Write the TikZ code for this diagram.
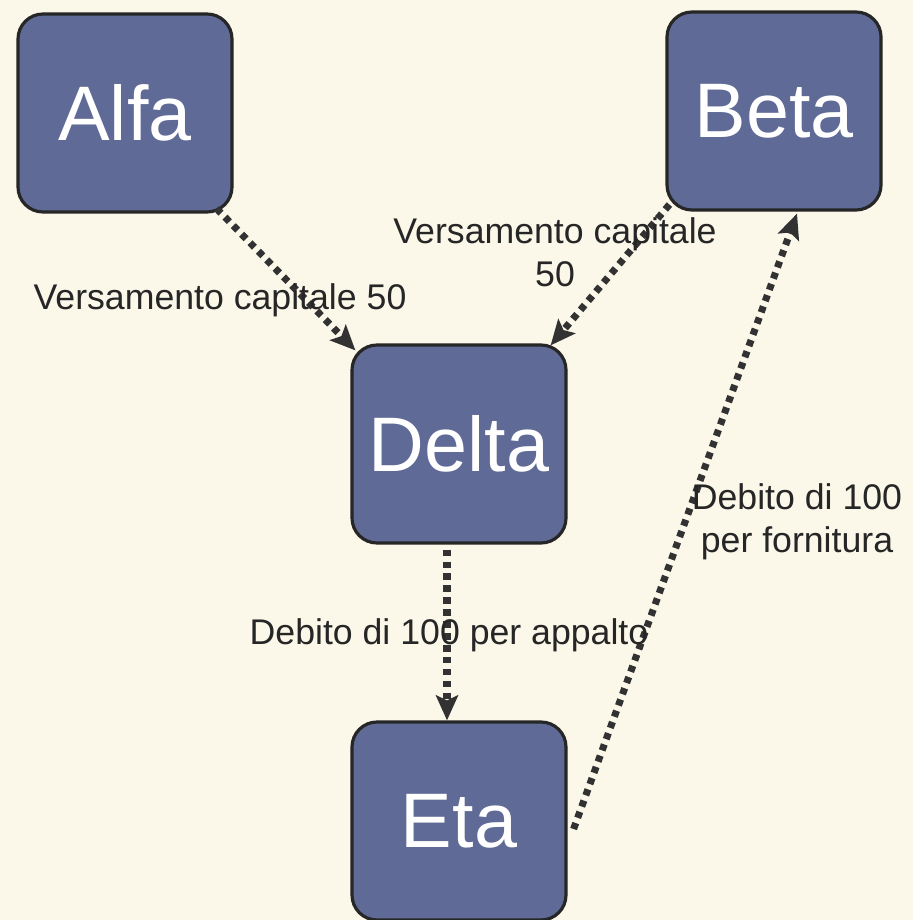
\documentclass[tikz,border=0pt]{standalone}
\usepackage{fontspec}
\setmainfont{Liberation Sans}
\usepackage{tikz}
\usetikzlibrary{calc}
\usetikzlibrary{arrows.meta}
\usetikzlibrary{positioning}
\definecolor{boxblue}{RGB}{95,107,150}
\definecolor{paper}{RGB}{251,247,233}
\definecolor{inkgray}{RGB}{50,50,50}
\tikzstyle{firm}=[draw=black!85,line width=1.8pt,fill=boxblue,rounded corners=0.5cm,
                minimum width=4.28cm,minimum height=3.96cm,inner sep=0,text=white,
                font=\fontsize{44}{48}\selectfont]
\tikzstyle{flow}=[draw=inkgray,line width=4pt,dash pattern=on 3.6pt off 3.2pt,
                -{Stealth[length=0.5cm,width=0.44cm,inset=0.1cm]}]
\tikzstyle{lbl}=[text=black!85,align=center,inner sep=0,
                font=\fontsize{20.3}{24.5}\selectfont]

\begin{document}
\begin{tikzpicture}
\fill[paper] (0,0) rectangle (18.26,-18.4);
\useasboundingbox (0,0) rectangle (18.26,-18.4);
\node[firm] (Alfa) at (2.5,-2.26) {Alfa};
\node[firm] (Beta) at (15.48,-2.22) {Beta};
\node[firm] (Delta) at (9.18,-8.88) {Delta};
\node[firm] (Eta) at (9.18,-16.42) {Eta};
\coordinate (A1) at ($(Alfa.south east)+(-0.34,0.1)$);
\coordinate (D1) at ($(Delta.north west)+(0.1,-0.14)$);
\draw[flow] (A1) -- (D1);
\coordinate (B1) at ($(Beta.south west)+(0.08,0.14)$);
\coordinate (D2) at ($(Delta.north east)+(-0.34,-0.04)$);
\draw[flow] (B1) -- (D2);
\coordinate (D3) at ($(Delta.south)+(-0.24,-0.1)$);
\coordinate (E1) at ($(Eta.north)+(-0.24,0)$);
\draw[flow] (D3) -- (E1);
\coordinate (E2) at ($(Eta.east)+(0.12,-0.16)$);
\coordinate (B2) at ($(Beta.south)+(0.46,-0.04)$);
\draw[flow] (E2) -- (B2);
\node[lbl] (vAlfa) at (4.4,-6.0) {Versamento capitale 50};
\node[lbl] (vBeta) at (11.1,-5.04) {Versamento capitale\\50};
\node[lbl] (dDelta) at (8.98,-12.7) {Debito di 100 per appalto};
\node[lbl] (dEta) at (15.94,-10.44) {Debito di 100\\per fornitura};
\end{tikzpicture}
\end{document}
